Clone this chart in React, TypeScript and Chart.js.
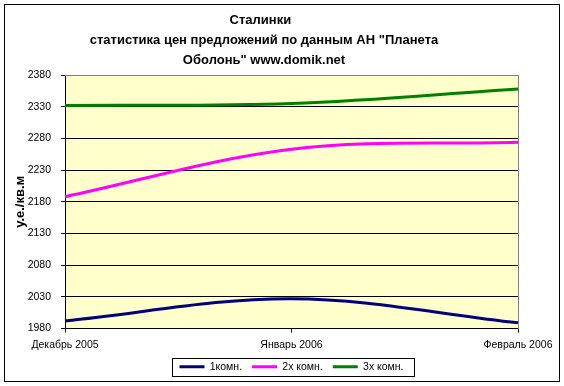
import React, { useEffect, useRef } from "react";
import { Chart, registerables } from "chart.js";

Chart.register(...registerables);

const categories = ["Декабрь 2005", "Январь 2006", "Февраль 2006"];
const seriesNames = ["1комн.", "2х комн.", "3х комн."];
const room1 = [1992, 2027, 1989];
const room2 = [2188, 2263, 2274];
const room3 = [2332, 2335, 2358];
const seriesColors = ["#000080", "#FF00FF", "#008000"];
const titleLines = [
  "Сталинки  ",
  'статистика цен предложений по данным АН "Планета',
  'Оболонь" www.domik.net',
];
const yAxisTitle = "у.е./кв.м";
const yMin = 1980;
const yMax = 2380;
const yStep = 50;

const FONT = "Arial, 'Liberation Sans', sans-serif";

const framePlugin = {
  id: "frame",
  beforeDraw(chart: any) {
    const { ctx, chartArea } = chart;
    ctx.save();
    ctx.fillStyle = "#FFFFFF";
    ctx.fillRect(0, 0, chart.width, chart.height);
    ctx.strokeStyle = "#000000";
    ctx.lineWidth = 1;
    ctx.strokeRect(4.5, 4.5, 555, 377);
    ctx.fillStyle = "#FFFFCC";
    ctx.fillRect(chartArea.left, chartArea.top, chartArea.right - chartArea.left, chartArea.bottom - chartArea.top);
    ctx.restore();
  },
  beforeDatasetsDraw(chart: any) {
    const { ctx, chartArea } = chart;
    ctx.save();
    ctx.strokeStyle = "#808080";
    ctx.lineWidth = 1;
    const r = Math.round(chartArea.right) + 0.5;
    const t = Math.round(chartArea.top) + 0.5;
    ctx.beginPath();
    ctx.moveTo(Math.round(chartArea.left), t);
    ctx.lineTo(r, t);
    ctx.lineTo(r, Math.round(chartArea.bottom));
    ctx.stroke();
    ctx.restore();
  },
  afterDraw(chart: any) {
    const lg = chart.legend;
    if (!lg || !lg.legendHitBoxes || !lg.legendHitBoxes.length) return;
    const boxes = lg.legendHitBoxes;
    const first = boxes[0];
    const last = boxes[boxes.length - 1];
    const ctx = chart.ctx;
    const left = Math.round(first.left - 7) + 0.5;
    const right = Math.round(last.left + last.width + 10) + 0.5;
    const top = Math.round(first.top - 4) + 0.5;
    const bottom = Math.round(first.top + first.height + 4) + 0.5;
    ctx.save();
    ctx.strokeStyle = "#000000";
    ctx.lineWidth = 1;
    ctx.strokeRect(left, top, right - left, bottom - top);
    ctx.restore();
  },
};

export default function App() {
  const ref = useRef<HTMLCanvasElement | null>(null);

  useEffect(() => {
    if (!ref.current) return;
    const data = [room1, room2, room3];
    const chart = new Chart(ref.current, {
      type: "line",
      data: {
        labels: categories,
        datasets: data.map((d, i) => ({
          label: seriesNames[i],
          data: d,
          borderColor: seriesColors[i],
          backgroundColor: seriesColors[i],
          borderWidth: 3,
          pointRadius: 0,
          pointHoverRadius: 0,
          tension: 0.35,
          fill: false,
          pointStyle: "line",
        })),
      },
      options: {
        animation: false,
        responsive: false,
        maintainAspectRatio: false,
        devicePixelRatio: 1,
        events: [],
        layout: { padding: { left: 10, right: 46, top: 10, bottom: 4 } },
        plugins: {
          title: {
            display: true,
            text: titleLines,
            color: "#000000",
            font: { family: FONT, size: 13, weight: "bold", lineHeight: "20px" },
            padding: { top: 0, bottom: 5 },
          },
          legend: {
            display: true,
            position: "bottom",
            fullSize: false,
            labels: {
              usePointStyle: true,
              pointStyleWidth: 25,
              boxHeight: 10,
              padding: 10,
              color: "#000000",
              font: { family: FONT, size: 10.5 },
            },
          },
          tooltip: { enabled: false },
        },
        scales: {
          x: {
            type: "category",
            offset: false,
            grid: {
              display: true,
              drawOnChartArea: false,
              drawTicks: true,
              tickLength: 4,
              color: "#000000",
            },
            border: { display: true, color: "#000000", width: 1 },
            ticks: {
              color: "#000000",
              font: { family: FONT, size: 10.5 },
              padding: 6,
              maxRotation: 0,
              autoSkip: false,
            },
            afterFit(scale: any) {
              scale.height = 23;
            },
          },
          y: {
            min: yMin,
            max: yMax,
            grid: {
              display: true,
              drawOnChartArea: true,
              drawTicks: true,
              tickLength: 4,
              color: "#000000",
            },
            border: { display: true, color: "#000000", width: 1 },
            ticks: {
              stepSize: yStep,
              color: "#000000",
              font: { family: FONT, size: 10.5 },
              padding: 10,
              callback: (v: any) => String(v),
            },
            title: {
              display: true,
              text: yAxisTitle,
              color: "#000000",
              font: { family: FONT, size: 13, weight: "bold" },
              padding: { top: 3, bottom: 0 },
            },
            afterFit(scale: any) {
              scale.width = 55;
            },
          },
        },
      },
      plugins: [framePlugin],
    });
    return () => chart.destroy();
  }, []);

  return (
    <div style={{ position: "absolute", left: 0, top: 0, width: 564, height: 386, background: "#FFFFFF" }}>
      <canvas ref={ref} width={564} height={386} style={{ width: 564, height: 386, display: "block" }} />
    </div>
  );
}
